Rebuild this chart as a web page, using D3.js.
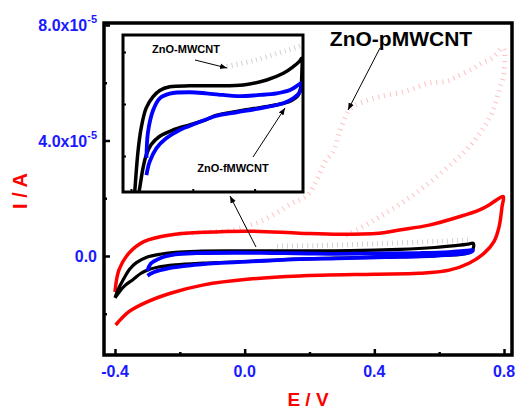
<!DOCTYPE html>
<html>
<head>
<meta charset="utf-8">
<script src="https://cdn.jsdelivr.net/npm/d3@7"></script>
<style>
  html, body { margin: 0; padding: 0; background: #fff; }
  svg { display: block; font-family: "Liberation Sans", Arial, sans-serif; }
</style>
</head>
<body>
<svg id="chart" width="515" height="412"></svg>
<script>
// ---------- DATA (E in V, I in units of 1e-5 A) ----------
const xTickValues = [-0.4, 0.0, 0.4, 0.8];
const xTickLabels = ["-0.4", "0.0", "0.4", "0.8"];
const xMinorTicks = [-0.2, 0.2, 0.6];
const yTickValues = [0, 4, 8];
const yTickMantissa = ["0.0", "4.0x10", "8.0x10"];
const yTickExponent = ["", "-5", "-5"];
const yMinorTicks = [-2, 2, 6];
const insetXTicks = [-0.4, 0.0, 0.4];
const insetYTicks = [-0.5, 0.0, 0.5];

// ZnO-pMWCNT (red)
const redCV = [[-0.400,-1.24],[-0.388,-0.49],[-0.357,0.10],[-0.311,0.50],[-0.229,0.73],[-0.126,0.82],[0.020,0.86],[0.169,0.79],[0.292,0.75],[0.415,0.79],[0.477,0.90],[0.569,1.07],[0.662,1.36],[0.723,1.59],[0.754,1.77],[0.785,2.00],[0.798,2.06],
  [0.794,1.71],[0.785,1.02],[0.769,0.50],[0.738,0.09],[0.692,-0.25],[0.631,-0.49],[0.538,-0.60],[0.400,-0.63],[0.169,-0.69],[0.015,-0.80],[-0.126,-1.00],[-0.229,-1.29],[-0.311,-1.64],[-0.357,-1.93],[-0.398,-2.39]];
// ZnO-MWCNT (black)
const blackCV = [[-0.400,-1.45],[-0.390,-1.15],[-0.376,-0.85],[-0.355,-0.46],[-0.334,-0.23],[-0.302,-0.04],[-0.257,0.07],[-0.214,0.13],[-0.149,0.165],[-0.020,0.175],[0.150,0.175],[0.327,0.183],[0.478,0.231],[0.586,0.295],[0.650,0.359],[0.690,0.41],[0.705,0.44],
  [0.706,0.30],[0.700,0.17],[0.680,0.08],[0.640,0.035],[0.580,0.005],[0.500,-0.02],[0.327,-0.06],[0.150,-0.11],[0.087,-0.15],[-0.020,-0.20],[-0.128,-0.25],[-0.214,-0.31],[-0.269,-0.39],[-0.301,-0.49],[-0.322,-0.615],[-0.344,-0.81],[-0.372,-1.05],[-0.400,-1.45]];
// ZnO-fMWCNT (blue)
const blueCV = [[-0.300,-0.52],[-0.290,-0.27],[-0.257,-0.06],[-0.214,0.055],[-0.149,0.10],[-0.020,0.113],[0.087,0.103],[0.195,0.087],[0.284,0.075],[0.435,0.087],[0.543,0.103],[0.630,0.135],[0.683,0.183],[0.704,0.20],
  [0.694,0.118],[0.650,0.055],[0.586,0.007],[0.435,-0.041],[0.284,-0.08],[0.150,-0.115],[0.023,-0.186],[-0.085,-0.25],[-0.172,-0.33],[-0.236,-0.426],[-0.279,-0.555],[-0.300,-0.683]];
// faint ghost traces
const pinkTrace = [[-0.20,0.78],[-0.10,0.84],[-0.03,0.90],[0.015,1.07],[0.046,1.18],[0.098,1.49],[0.148,1.84],[0.194,2.11],[0.252,3.33],[0.271,3.57],[0.292,4.26],[0.323,5.06],[0.363,5.33],[0.415,5.51],[0.498,5.71],[0.569,5.99],[0.622,6.05],[0.652,6.20],[0.702,6.48],[0.732,6.68],[0.763,6.85],[0.797,7.20],
  [0.800,6.34],[0.785,5.75],[0.763,4.95],[0.732,4.36],[0.692,3.78],[0.640,3.22],[0.569,2.53],[0.498,1.94],[0.415,1.35],[0.345,0.90],[0.302,0.66]];
const grayTrace = [[0.10,0.34],[0.22,0.36],[0.40,0.42],[0.60,0.51],[0.70,0.56]];

// ---------- LAYOUT ----------
const svg = d3.select("#chart");
const M = {left: 104, right: 512, top: 23, bottom: 355};
const x = d3.scaleLinear().domain([-0.4, 0.8]).range([115, 504]);
const y = d3.scaleLinear().domain([0, 8]).range([256, 25]);
const I = {left: 123, right: 303, top: 35, bottom: 192};
const xi = d3.scaleLinear().domain([0, 0.4]).range([192.8, 254.6]);
const yi = d3.scaleLinear().domain([0, 0.5]).range([104, 52]);

const defs = svg.append("defs");
defs.append("clipPath").attr("id","clipMain").append("rect")
  .attr("x", M.left).attr("y", M.top).attr("width", M.right-M.left).attr("height", M.bottom-M.top);
defs.append("clipPath").attr("id","clipInset").append("rect")
  .attr("x", I.left).attr("y", I.top).attr("width", I.right-I.left).attr("height", I.bottom-I.top);
defs.append("marker").attr("id","arrow").attr("viewBox","0 0 10 10").attr("refX",10).attr("refY",5)
  .attr("markerWidth",7).attr("markerHeight",7).attr("markerUnits","userSpaceOnUse").attr("orient","auto")
  .append("path").attr("d","M0,1 L10,5 L0,9 Z").attr("fill","#000");

const curve = d3.curveCatmullRom.alpha(0.5);
const lineMain = d3.line().x(d => x(d[0])).y(d => y(d[1])).curve(curve);
const lineInset = d3.line().x(d => xi(d[0])).y(d => yi(d[1])).curve(curve);

// ---------- MAIN PLOT ----------
const gMain = svg.append("g").attr("clip-path","url(#clipMain)");
gMain.append("path").attr("d", lineMain(pinkTrace)).attr("fill","none")
  .attr("stroke","#ffc0c0").attr("stroke-width",5).attr("stroke-dasharray","1 5");
gMain.append("path").attr("d", lineMain(grayTrace)).attr("fill","none")
  .attr("stroke","#d2d2d2").attr("stroke-width",5).attr("stroke-dasharray","1 4");
gMain.append("path").attr("d", lineMain(redCV)).attr("fill","none")
  .attr("stroke","#ff0000").attr("stroke-width",3.5).attr("stroke-linejoin","round");
gMain.append("path").attr("d", lineMain(blackCV)).attr("fill","none")
  .attr("stroke","#000").attr("stroke-width",3.2).attr("stroke-linejoin","round");
gMain.append("path").attr("d", lineMain(blueCV)).attr("fill","none")
  .attr("stroke","#0000ff").attr("stroke-width",3.8).attr("stroke-linejoin","round");

// axes (inward ticks)
const xAxis = svg.append("g").attr("transform",`translate(0,${M.bottom})`)
  .call(d3.axisBottom(x).tickValues(xTickValues).tickSize(-6).tickFormat(""));
const xAxisMinor = svg.append("g").attr("transform",`translate(0,${M.bottom})`)
  .call(d3.axisBottom(x).tickValues(xMinorTicks).tickSize(-3).tickFormat(""));
const yAxis = svg.append("g").attr("transform",`translate(${M.left},0)`)
  .call(d3.axisLeft(y).tickValues(yTickValues).tickSize(-6).tickFormat(""));
const yAxisMinor = svg.append("g").attr("transform",`translate(${M.left},0)`)
  .call(d3.axisLeft(y).tickValues(yMinorTicks).tickSize(-3).tickFormat(""));
[xAxis, xAxisMinor, yAxis, yAxisMinor].forEach(g => {
  g.select(".domain").remove();
  g.selectAll(".tick line").attr("stroke","#000").attr("stroke-width",2.5);
});

svg.append("rect").attr("x",M.left).attr("y",M.top).attr("width",M.right-M.left).attr("height",M.bottom-M.top)
  .attr("fill","none").attr("stroke","#000").attr("stroke-width",3.5);

// tick labels
svg.append("g").selectAll("text").data(xTickValues).join("text")
  .attr("x", d => x(d)).attr("y", 377).attr("text-anchor","middle")
  .attr("font-size",16).attr("font-weight","bold").attr("fill","#1a1aff")
  .text((d,i) => xTickLabels[i]);
const yLab = svg.append("g").selectAll("text").data(yTickValues).join("text")
  .attr("x", 97).attr("y", d => y(d) + 6).attr("text-anchor","end")
  .attr("font-size",16).attr("font-weight","bold").attr("fill","#1a1aff");
yLab.append("tspan").text((d,i) => yTickMantissa[i]);
yLab.append("tspan").attr("dy",-8).attr("font-size",11).text((d,i) => yTickExponent[i]);

// axis titles
svg.append("text").attr("x", 308).attr("y", 406).attr("text-anchor","middle")
  .attr("font-size",19).attr("font-weight","bold").attr("fill","#ff0000").text("E / V");
svg.append("text").attr("transform","translate(27,191) rotate(-90)").attr("text-anchor","middle")
  .attr("font-size",20).attr("font-weight","bold").attr("fill","#ff0000").text("I / A");

// ---------- INSET ----------
svg.append("rect").attr("x",I.left).attr("y",I.top).attr("width",I.right-I.left).attr("height",I.bottom-I.top)
  .attr("fill","#fff");
const gIn = svg.append("g").attr("clip-path","url(#clipInset)");
gIn.append("path").attr("d", lineInset(grayTrace.filter(d => d[0] >= 0.2))).attr("fill","none")
  .attr("stroke","#d2d2d2").attr("stroke-width",5).attr("stroke-dasharray","1 4");
gIn.append("path").attr("d", lineInset(blackCV)).attr("fill","none")
  .attr("stroke","#000").attr("stroke-width",3.5).attr("stroke-linejoin","round");
gIn.append("path").attr("d", lineInset(blueCV)).attr("fill","none")
  .attr("stroke","#0000ff").attr("stroke-width",3.8).attr("stroke-linejoin","round");

const ixAxis = svg.append("g").attr("transform",`translate(0,${I.bottom})`)
  .call(d3.axisBottom(xi).tickValues(insetXTicks).tickSize(-3).tickFormat(""));
const iyAxis = svg.append("g").attr("transform",`translate(${I.left},0)`)
  .call(d3.axisLeft(yi).tickValues(insetYTicks).tickSize(-3).tickFormat(""));
[ixAxis, iyAxis].forEach(g => {
  g.select(".domain").remove();
  g.selectAll(".tick line").attr("stroke","#000").attr("stroke-width",2);
});
svg.append("rect").attr("x",I.left).attr("y",I.top).attr("width",I.right-I.left).attr("height",I.bottom-I.top)
  .attr("fill","none").attr("stroke","#000").attr("stroke-width",3);

// ---------- ANNOTATIONS ----------
svg.append("text").attr("x",401).attr("y",46).attr("text-anchor","middle")
  .attr("font-size",21).attr("font-weight","bold").attr("fill","#000").text("ZnO-pMWCNT");
svg.append("text").attr("x",186).attr("y",53).attr("text-anchor","middle")
  .attr("font-size",11).attr("font-weight","bold").attr("fill","#000").text("ZnO-MWCNT");
svg.append("text").attr("x",233).attr("y",172).attr("text-anchor","middle")
  .attr("font-size",11).attr("font-weight","bold").attr("fill","#000").text("ZnO-fMWCNT");

const arrows = [
  [380,48,348,110],
  [195,60,227,68],
  [253,157,285,108],
  [256,247,230,196]
];
svg.append("g").selectAll("line").data(arrows).join("line")
  .attr("x1",d=>d[0]).attr("y1",d=>d[1]).attr("x2",d=>d[2]).attr("y2",d=>d[3])
  .attr("stroke","#000").attr("stroke-width",1).attr("marker-end","url(#arrow)");
</script>
</body>
</html>
